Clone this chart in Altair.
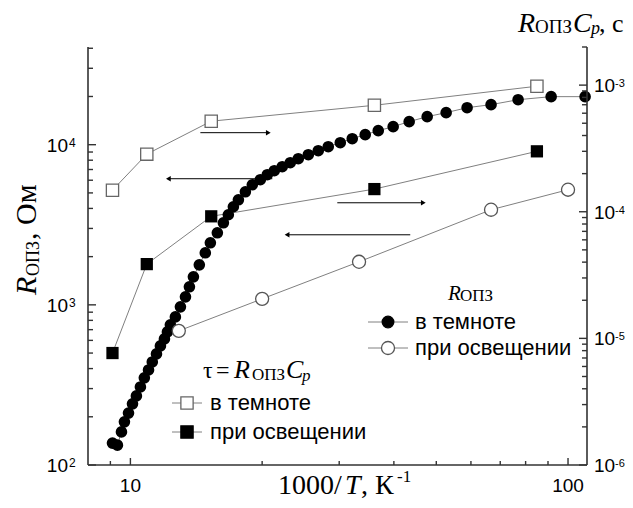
import altair as alt
import pandas as pd

# ---------------- data ----------------
inv_T_R_dark = [9.10, 9.34, 9.54, 9.69, 9.90, 10.11, 10.32, 10.54, 10.76, 11.00,
                11.22, 11.47, 11.71, 11.96, 12.15, 12.34, 12.67, 13.01, 13.36, 13.64,
                13.93, 14.37, 14.83, 15.23, 15.80, 16.31, 16.74, 17.19, 17.65, 18.31,
                18.99, 19.81, 20.55, 21.32, 22.23, 23.19, 24.19, 25.50, 26.87, 28.32,
                30.17, 32.13, 34.40, 36.84, 39.85, 43.35, 47.66, 52.66, 58.8, 66.7,
                76.9, 91.5, 109.4]
R_dark = [137, 133, 161, 186, 211, 241, 270, 307, 350, 392,
          440, 494, 554, 613, 678, 750, 841, 972, 1122, 1296,
          1496, 1778, 2113, 2441, 2818, 3254, 3652, 4098, 4529, 5082,
          5623, 6043, 6494, 6879, 7286, 7720, 8175, 8660, 9173, 9716,
          10292, 10902, 11548, 12232, 12957, 13932, 14962, 15849, 17022, 17783,
          19099, 19953, 19953]

inv_T_R_light = [12.9, 20.0, 33.3, 66.7, 100.0]
R_light = [688, 1090, 1857, 3925, 5234]

inv_T_tau = [9.1, 10.9, 15.3, 36.1, 84.9]
tau_dark = [1.48e-4, 2.85e-4, 5.19e-4, 6.93e-4, 9.8e-4]
tau_light = [7.66e-6, 3.86e-5, 9.2e-5, 1.51e-4, 3.0e-4]

# arrows pointing to the axis each curve belongs to (left-axis units)
arrow_from = [14.45, 21.1, 29.7, 43.6]
arrow_to = [20.66, 12.21, 46.7, 22.8]
arrow_R = [11885, 6130, 4339, 2738]

# axis ticks
x_major = [10, 100]
x_major_labels = ["10", "100"]
x_minor = [9, 20, 30, 40, 50, 60, 70, 80, 90]
yl_major = [100, 1000, 10000]
yl_exp = ["2", "3", "4"]
yl_minor = [200, 300, 400, 500, 600, 700, 800, 900,
            2000, 3000, 4000, 5000, 6000, 7000, 8000, 9000,
            20000, 30000, 40000]
yr_major = [1e-6, 1e-5, 1e-4, 1e-3]
yr_exp = ["-6", "-5", "-4", "-3"]
yr_minor = [2e-6, 3e-6, 4e-6, 5e-6, 6e-6, 7e-6, 8e-6, 9e-6,
            2e-5, 3e-5, 4e-5, 5e-5, 6e-5, 7e-5, 8e-5, 9e-5,
            2e-4, 3e-4, 4e-4, 5e-4, 6e-4, 7e-4, 8e-4, 9e-4,
            2e-3]

# ---------------- layout / style ----------------
W, H = 499, 418
OX, OY = 88, 47          # plot origin on the page
SANS = "Liberation Sans, Arial, sans-serif"
SERIF = "Liberation Serif, Times New Roman, serif"
GRAY = "#808080"
AX = "#333333"

xs = alt.Scale(type="log", domain=[8, 110.5], nice=False)
yls = alt.Scale(type="log", domain=[100, 40738], nice=False)
yrs = alt.Scale(type="log", domain=[1e-6, 2e-3], nice=False)


def X(f="x"):
    return alt.X(f"{f}:Q", scale=xs, axis=None)


def YL(f="y"):
    return alt.Y(f"{f}:Q", scale=yls, axis=None)


def YR(f="y"):
    return alt.Y(f"{f}:Q", scale=yrs, axis=None)


one = pd.DataFrame({"a": [0]})


def txt(s, px, py, size, font=SANS, style="normal", align="left", angle=0):
    return alt.Chart(one).mark_text(
        text=s, font=font, fontSize=size, fontStyle=style, align=align,
        baseline="alphabetic", angle=angle, color="black"
    ).encode(x=alt.value(px - OX), y=alt.value(py - OY))


def hline(x1, x2, py, color=GRAY, w=1.0):
    return alt.Chart(one).mark_rule(color=color, strokeWidth=w).encode(
        x=alt.value(x1 - OX), x2=alt.value(x2 - OX), y=alt.value(py - OY))


def sym(px, py, shape, fill, stroke, size):
    return alt.Chart(one).mark_point(
        shape=shape, filled=True, fill=fill, stroke=stroke, strokeWidth=1.3,
        size=size, opacity=1
    ).encode(x=alt.value(px - OX), y=alt.value(py - OY))


layers = []

# ---- arrows ----
df_ar = pd.DataFrame({"x1": arrow_from, "x2": arrow_to, "y": arrow_R})
df_ar["shape"] = ["triangle-right" if b > a else "triangle-left" for a, b in zip(arrow_from, arrow_to)]
layers.append(alt.Chart(df_ar).mark_rule(color="black", strokeWidth=1).encode(
    x=X("x1"), x2=alt.X2("x2"), y=YL()))
layers.append(alt.Chart(df_ar).mark_point(filled=True, color="black", size=30, opacity=1).encode(
    x=X("x2"), y=YL(), shape=alt.Shape("shape:N", scale=None)))

# ---- tau series (right axis) ----
df_td = pd.DataFrame({"x": inv_T_tau, "y": tau_dark, "i": range(len(tau_dark))})
df_tl = pd.DataFrame({"x": inv_T_tau, "y": tau_light, "i": range(len(tau_light))})
layers.append(alt.Chart(df_td).mark_line(color=GRAY, strokeWidth=1).encode(x=X(), y=YR(), order="i:Q"))
layers.append(alt.Chart(df_tl).mark_line(color=GRAY, strokeWidth=1).encode(x=X(), y=YR(), order="i:Q"))
layers.append(alt.Chart(df_td).mark_point(shape="square", filled=True, fill="white", stroke="#666666",
                                          strokeWidth=1.3, size=150, opacity=1).encode(x=X(), y=YR()))
layers.append(alt.Chart(df_tl).mark_point(shape="square", filled=True, color="black",
                                          size=150, opacity=1).encode(x=X(), y=YR()))

# ---- R series (left axis) ----
df_rd = pd.DataFrame({"x": inv_T_R_dark, "y": R_dark, "i": range(len(R_dark))})
df_rl = pd.DataFrame({"x": inv_T_R_light, "y": R_light, "i": range(len(R_light))})
layers.append(alt.Chart(df_rd).mark_line(color=GRAY, strokeWidth=1).encode(x=X(), y=YL(), order="i:Q"))
layers.append(alt.Chart(df_rl).mark_line(color=GRAY, strokeWidth=1).encode(x=X(), y=YL(), order="i:Q"))
layers.append(alt.Chart(df_rd).mark_point(shape="circle", filled=True, color="black",
                                          size=135, opacity=1).encode(x=X(), y=YL()))
layers.append(alt.Chart(df_rl).mark_point(shape="circle", filled=True, fill="white", stroke="#555555",
                                          strokeWidth=1.3, size=170, opacity=1).encode(x=X(), y=YL()))

# ---- axis lines ----
layers.append(alt.Chart(one).mark_rule(color=AX, strokeWidth=1.6).encode(
    x=alt.value(0), y=alt.value(0), y2=alt.value(H)))
layers.append(alt.Chart(one).mark_rule(color=AX, strokeWidth=1.6).encode(
    x=alt.value(W), y=alt.value(0), y2=alt.value(H)))
layers.append(alt.Chart(one).mark_rule(color=AX, strokeWidth=1.6).encode(
    x=alt.value(0), x2=alt.value(W), y=alt.value(H)))

# ---- inward ticks ----
df_xM = pd.DataFrame({"x": x_major, "t": x_major_labels})
df_xm = pd.DataFrame({"x": x_minor})
layers.append(alt.Chart(df_xM).mark_rule(color=AX, strokeWidth=1.4).encode(
    x=X(), y=alt.value(H), y2=alt.value(H - 7)))
layers.append(alt.Chart(df_xm).mark_rule(color=AX, strokeWidth=1.4).encode(
    x=X(), y=alt.value(H), y2=alt.value(H - 4)))

df_lM = pd.DataFrame({"y": yl_major, "e": yl_exp})
df_lm = pd.DataFrame({"y": yl_minor})
layers.append(alt.Chart(df_lM).mark_rule(color=AX, strokeWidth=1.4).encode(
    y=YL(), x=alt.value(0), x2=alt.value(8)))
layers.append(alt.Chart(df_lm).mark_rule(color=AX, strokeWidth=1.4).encode(
    y=YL(), x=alt.value(0), x2=alt.value(5)))

df_rM = pd.DataFrame({"y": yr_major, "e": yr_exp})
df_rm = pd.DataFrame({"y": yr_minor})
layers.append(alt.Chart(df_rM).mark_rule(color=AX, strokeWidth=1.4).encode(
    y=YR(), x=alt.value(W), x2=alt.value(W - 8)))
layers.append(alt.Chart(df_rm).mark_rule(color=AX, strokeWidth=1.4).encode(
    y=YR(), x=alt.value(W), x2=alt.value(W - 5)))

# ---- tick labels ----
TL = 19
layers.append(alt.Chart(df_xM).mark_text(font=SANS, fontSize=TL, align="center", baseline="alphabetic",
                                         color="black").encode(x=X(), y=alt.value(H + 27), text="t:N"))
layers.append(alt.Chart(df_lM).mark_text(text="10", font=SANS, fontSize=TL, align="right",
                                         baseline="alphabetic", dy=7, color="black").encode(
    y=YL(), x=alt.value(-20)))
layers.append(alt.Chart(df_lM).mark_text(font=SANS, fontSize=12, align="left",
                                         baseline="alphabetic", dy=2, color="black").encode(
    y=YL(), x=alt.value(-19), text="e:N"))
layers.append(alt.Chart(df_rM).mark_text(text="10", font=SANS, fontSize=TL, align="left",
                                         baseline="alphabetic", dy=7, color="black").encode(
    y=YR(), x=alt.value(W + 7)))
layers.append(alt.Chart(df_rM).mark_text(font=SANS, fontSize=11, align="left",
                                         baseline="alphabetic", dy=2, color="black").encode(
    y=YR(), x=alt.value(W + 28), text="e:N"))

# ---- axis titles ----
# bottom: 1000/T, К^-1
layers += [txt("1000/", 278, 494, 28, SERIF),
           txt("T", 345, 494, 28, SERIF, "italic"),
           txt(", К", 361, 494, 28, SERIF),
           txt("-1", 397, 482, 17, SERIF)]
# left: R_ОПЗ, Ом (rotated)
layers += [txt("R", 36, 295, 30, SERIF, "italic", angle=270),
           txt("ОПЗ", 39, 276, 18, SERIF, angle=270),
           txt(", Ом", 36, 240, 30, SERIF, angle=270)]
# right top: R_ОПЗ C_p, с
layers += [txt("R", 518, 32, 28, SERIF, "italic"),
           txt("ОПЗ", 535, 33, 19, SERIF),
           txt("C", 573, 32, 28, SERIF, "italic"),
           txt("p", 591, 34, 18, SERIF, "italic"),
           txt(", с", 599, 32, 26, SERIF)]

# ---- legend 1 (R_ОПЗ) ----
LT = 22
layers += [txt("R", 448, 300, 21, SERIF, "italic"),
           txt("ОПЗ", 460, 301, 17, SERIF),
           hline(368, 408, 322), sym(388, 322, "circle", "black", "black", 135),
           txt("в темноте", 415, 329, LT),
           hline(368, 408, 348), sym(388, 348, "circle", "white", "#555555", 170),
           txt("при освещении", 415, 355, LT)]

# ---- legend 2 (tau) ----
layers += [txt("τ", 203, 378, 24, SERIF),
           txt("=", 216, 378, 24, SERIF),
           txt("R", 234, 378, 26, SERIF, "italic"),
           txt("ОПЗ", 252, 380, 17, SERIF),
           txt("C", 286, 378, 26, SERIF, "italic"),
           txt("p", 302, 381, 17, SERIF, "italic"),
           hline(172, 202, 403), sym(187, 403, "square", "white", "#666666", 150),
           txt("в темноте", 210, 410, LT),
           hline(172, 202, 432), sym(187, 432, "square", "black", "black", 150),
           txt("при освещении", 210, 439, LT)]

PAD_L, PAD_T = OX - 8, OY - 8
chart = alt.layer(*layers).resolve_scale(y="independent").properties(
    width=W, height=H,
    padding={"left": PAD_L, "top": PAD_T, "right": 617 - PAD_L - W, "bottom": 492 - PAD_T - H},
    autosize=alt.AutoSizeParams(type="none"),
).configure_view(stroke=None)

chart.save("out.html", embed_options={"renderer": "svg", "actions": False})
